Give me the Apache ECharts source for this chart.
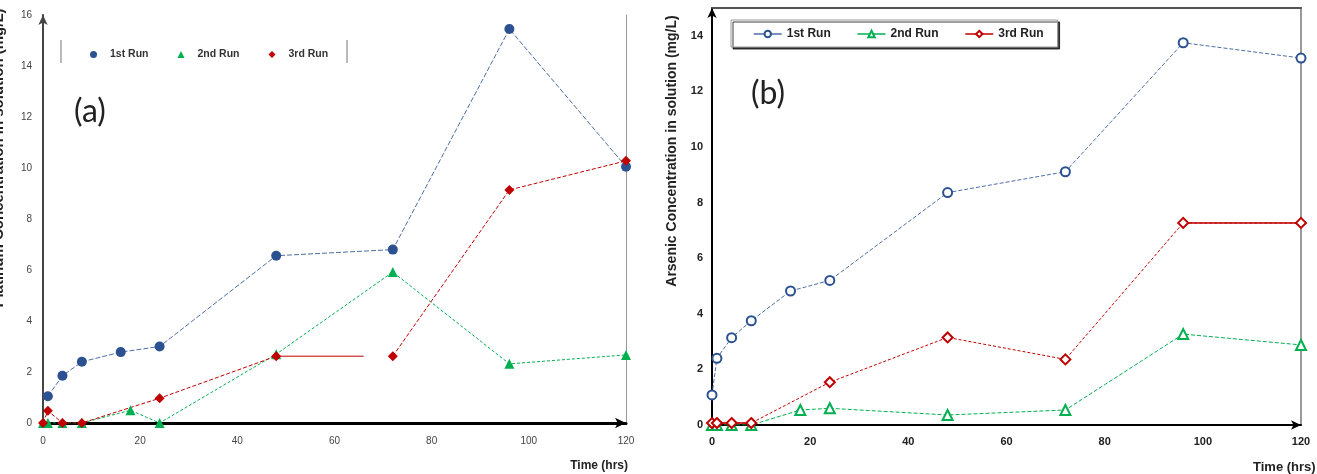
<!DOCTYPE html>
<html>
<head>
<meta charset="utf-8">
<script src="https://cdn.jsdelivr.net/npm/echarts@6/dist/echarts.min.js"></script>
<style>
  html, body { margin: 0; padding: 0; background: #fff; }
  #chart { width: 1317px; height: 474px; }
</style>
</head>
<body>
<div id="chart"></div>
<script>
// run names shared by both panels
var runs = ['1st Run', '2nd Run', '3rd Run'];

// (a) platinum, mg/L
var ptBlueX = [1, 4, 8, 16, 24, 48, 72, 96, 120];
var ptBlueY = [1.05, 1.85, 2.4, 2.78, 3.0, 6.56, 6.8, 15.45, 10.05];
var ptGreenX = [0, 1, 4, 8, 18, 24, 48, 72, 96, 120];
var ptGreenY = [0, 0, 0, 0, 0.5, 0, 2.7, 5.92, 2.32, 2.67];
var ptRedX = [0, 1, 4, 8, 24, 48, 57, 72, 96, 120];
var ptRedY = [0, 0.48, 0, 0, 0.97, 2.62, null, 2.62, 9.14, 10.28];
// the short solid red piece after 48 h that stops before 72 h
var ptRedStubX = [48, 66];
var ptRedStubY = [2.62, 2.62];

// (b) arsenic, mg/L
var asBlueX = [0, 1, 4, 8, 16, 24, 48, 72, 96, 120];
var asBlueY = [1.08, 2.4, 3.14, 3.75, 4.82, 5.2, 8.36, 9.11, 13.75, 13.2];
var asGreenX = [0, 1, 4, 8, 18, 24, 48, 72, 96, 120];
var asGreenY = [0, 0, 0, 0, 0.54, 0.6, 0.36, 0.54, 3.27, 2.88];
var asRedX = [0, 1, 4, 8, 24, 48, 72, 96, 120];
var asRedY = [0.07, 0.07, 0.07, 0.07, 1.54, 3.15, 2.36, 7.27, 7.27];

var BLUE = '#2B5190', BLUE_LINE = '#4D6EA6', GREEN = '#00B050', RED = '#C00000';

function pts(xs, ys) {
    var out = [];
    for (var i = 0; i < xs.length; i++) {
        out.push(ys[i] === null ? [xs[i], '-'] : [xs[i], ys[i]]);
    }
    return out;
}

var chart = echarts.init(document.getElementById('chart'));

var tickFontA = { color: '#444', fontSize: 10, fontFamily: 'Liberation Sans, Arial' };
var tickFontB = { color: '#222', fontSize: 11, fontWeight: 'bold', fontFamily: 'Liberation Sans, Arial' };

var option = {
    animation: false,
    backgroundColor: '#fff',
    grid: [
        { left: 43, right: 691, top: 15, bottom: 51 },
        { left: 712, right: 16, top: 8, bottom: 49 }
    ],
    xAxis: [
        {
            gridIndex: 0, type: 'value', min: 0, max: 120, interval: 20,
            axisLine: { lineStyle: { color: '#000', width: 3 }, symbol: ['none', 'arrow'], symbolSize: [8, 11] },
            axisTick: { show: false }, splitLine: { show: false },
            axisLabel: Object.assign({ margin: 13 }, tickFontA)
        },
        {
            gridIndex: 1, type: 'value', min: 0, max: 120, interval: 20,
            axisLine: { lineStyle: { color: '#000', width: 2 }, symbol: ['none', 'arrow'], symbolSize: [7, 10] },
            axisTick: { show: false }, splitLine: { show: false },
            axisLabel: Object.assign({ margin: 11 }, tickFontB)
        },
        {
            // top frame of (b)
            gridIndex: 1, type: 'value', position: 'top', min: 0, max: 120,
            axisLine: { onZero: false, lineStyle: { color: '#555', width: 2 } },
            axisTick: { show: false }, axisLabel: { show: false }, splitLine: { show: false }
        }
    ],
    yAxis: [
        {
            gridIndex: 0, type: 'value', min: 0, max: 16, interval: 2,
            axisLine: { lineStyle: { color: '#444', width: 2 }, symbol: ['none', 'arrow'], symbolSize: [7, 10] },
            axisTick: { show: false }, splitLine: { show: false },
            axisLabel: Object.assign({ margin: 11 }, tickFontA)
        },
        {
            gridIndex: 0, type: 'value', position: 'right', min: 0, max: 16,
            axisLine: { onZero: false, lineStyle: { color: '#999', width: 1 } },
            axisTick: { show: false }, axisLabel: { show: false }, splitLine: { show: false }
        },
        {
            gridIndex: 1, type: 'value', min: 0, max: 15, interval: 2,
            axisLine: { lineStyle: { color: '#000', width: 2 }, symbol: ['none', 'arrow'], symbolSize: [7, 10] },
            axisTick: { show: false }, splitLine: { show: false },
            axisLabel: Object.assign({ margin: 9, showMaxLabel: false }, tickFontB)
        },
        {
            gridIndex: 1, type: 'value', position: 'right', min: 0, max: 15,
            axisLine: { onZero: false, lineStyle: { color: '#999', width: 2 } },
            axisTick: { show: false }, axisLabel: { show: false }, splitLine: { show: false }
        }
    ],
    legend: [
        {
            data: [
                { name: runs[0] + ' (a)', icon: 'circle' },
                { name: runs[1] + ' (a)', icon: 'triangle' },
                { name: runs[2] + ' (a)', icon: 'diamond' }
            ],
            left: 90, top: 49, padding: 0,
            itemWidth: 7, itemHeight: 7, itemGap: 29,
            formatter: function (n) { return n.replace(' (a)', ''); },
            textStyle: { fontSize: 10.5, fontWeight: 'bold', color: '#333', fontFamily: 'Liberation Sans, Arial', padding: [0, 0, 0, 8] }
        },
        {
            data: [runs[0] + ' (b)', runs[1] + ' (b)', runs[2] + ' (b)'],
            left: 731, top: 20, padding: [8, 14, 7, 22],
            itemWidth: 28, itemHeight: 8, itemGap: 26,
            backgroundColor: '#fff', borderColor: '#999', borderWidth: 1,
            shadowColor: 'rgba(0,0,0,0.75)', shadowOffsetX: 2, shadowOffsetY: 2, shadowBlur: 0,
            lineStyle: { type: 'solid', width: 1.5 },
            formatter: function (n) { return n.replace(' (b)', ''); },
            textStyle: { fontSize: 12, fontWeight: 'bold', color: '#222', fontFamily: 'Liberation Sans, Arial' }
        }
    ],
    graphic: [
        { type: 'line', shape: { x1: 61, y1: 40, x2: 61, y2: 63 }, style: { stroke: '#777', lineWidth: 1 } },
        { type: 'line', shape: { x1: 347, y1: 40, x2: 347, y2: 63 }, style: { stroke: '#777', lineWidth: 1 } },
        { type: 'text', x: 74, y: 112, style: { text: '(a)', fontSize: 32, fontFamily: 'Lato, Open Sans', fill: '#222', verticalAlign: 'middle' } },
        { type: 'text', x: 751, y: 94, style: { text: '(b)', fontSize: 32, fontFamily: 'Lato, Open Sans', fill: '#222', verticalAlign: 'middle' } },
        { type: 'text', x: 628, y: 466, style: { text: 'Time (hrs)', fontSize: 12, fontWeight: 'bold', fontFamily: 'Liberation Sans, Arial', fill: '#222', align: 'right', verticalAlign: 'middle' } },
        { type: 'text', x: 1253, y: 467, style: { text: 'Time (hrs)', fontSize: 13, fontWeight: 'bold', fontFamily: 'Liberation Sans, Arial', fill: '#222', verticalAlign: 'middle' } },
        { type: 'text', x: -1, y: 158, rotation: Math.PI / 2, style: { text: 'Platinum Concentration in solution (mg/L)', fontSize: 15, fontWeight: 'bold', fontFamily: 'Liberation Sans, Arial', fill: '#222', align: 'center', verticalAlign: 'middle' } },
        { type: 'text', x: 672, y: 151, rotation: Math.PI / 2, style: { text: 'Arsenic Concentration in solution (mg/L)', fontSize: 14, fontWeight: 'bold', fontFamily: 'Liberation Sans, Arial', fill: '#222', align: 'center', verticalAlign: 'middle' } }
    ],
    series: [
        // ---- (a) ----
        {
            name: runs[0] + ' (a)', type: 'line', xAxisIndex: 0, yAxisIndex: 0,
            data: pts(ptBlueX, ptBlueY), symbol: 'circle', symbolSize: 10,
            itemStyle: { color: BLUE }, lineStyle: { color: BLUE_LINE, width: 1, type: [5, 2] }
        },
        {
            name: runs[1] + ' (a)', type: 'line', xAxisIndex: 0, yAxisIndex: 0,
            data: pts(ptGreenX, ptGreenY), symbol: 'triangle', symbolSize: 10,
            itemStyle: { color: GREEN }, lineStyle: { color: GREEN, width: 1, type: [3, 2] }
        },
        {
            name: 'red stub (a)', type: 'line', xAxisIndex: 0, yAxisIndex: 0,
            data: pts(ptRedStubX, ptRedStubY), symbol: 'none',
            lineStyle: { color: RED, width: 1, type: 'solid' }
        },
        {
            name: runs[2] + ' (a)', type: 'line', xAxisIndex: 0, yAxisIndex: 0,
            data: pts(ptRedX, ptRedY), symbol: 'diamond', symbolSize: 10, connectNulls: false,
            itemStyle: { color: RED }, lineStyle: { color: RED, width: 1, type: [4, 2] }
        },
        // ---- (b) ----
        {
            name: runs[0] + ' (b)', type: 'line', xAxisIndex: 1, yAxisIndex: 2,
            data: pts(asBlueX, asBlueY), symbol: 'emptyCircle', symbolSize: 9,
            itemStyle: { color: BLUE, borderWidth: 2 }, lineStyle: { color: BLUE_LINE, width: 1, type: [4, 2] }
        },
        {
            name: runs[1] + ' (b)', type: 'line', xAxisIndex: 1, yAxisIndex: 2,
            data: pts(asGreenX, asGreenY), symbol: 'emptyTriangle', symbolSize: 10,
            itemStyle: { color: GREEN, borderWidth: 2 }, lineStyle: { color: GREEN, width: 1, type: [4, 2] }
        },
        {
            name: 'red solid start (b)', type: 'line', xAxisIndex: 1, yAxisIndex: 2,
            data: pts(asRedX.slice(0, 4), asRedY.slice(0, 4)), symbol: 'none',
            lineStyle: { color: RED, width: 1.5, type: 'solid' }
        },
        {
            name: 'red solid end (b)', type: 'line', xAxisIndex: 1, yAxisIndex: 2,
            data: pts(asRedX.slice(7), asRedY.slice(7)), symbol: 'none',
            lineStyle: { color: RED, width: 1.5, type: 'solid' }
        },
        {
            name: runs[2] + ' (b)', type: 'line', xAxisIndex: 1, yAxisIndex: 2,
            data: pts(asRedX, asRedY), symbol: 'emptyDiamond', symbolSize: 10,
            itemStyle: { color: RED, borderWidth: 2 }, lineStyle: { color: RED, width: 1, type: [3, 2] }
        }
    ]
};

chart.setOption(option);
</script>
</body>
</html>
